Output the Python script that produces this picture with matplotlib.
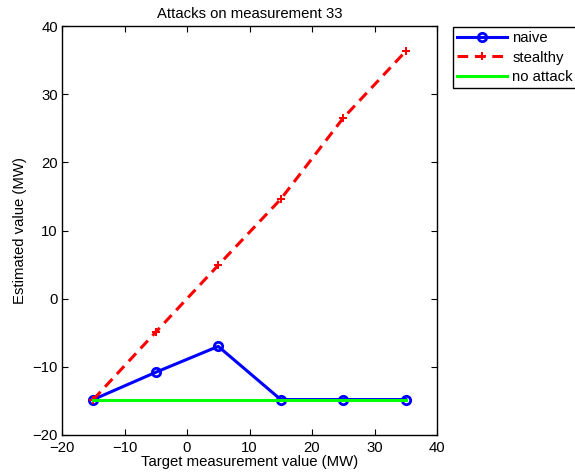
import numpy as np
import matplotlib
matplotlib.use('Agg')
import matplotlib.pyplot as plt

plt.rcParams['font.family'] = ['Liberation Sans', 'DejaVu Sans']

# Valores
target = [-15, -5, 5, 15, 25, 35]
naive = [-14.8, -10.8, -7.0, -14.8, -14.8, -14.8]
stealthy = [-14.8, -4.9, 4.9, 14.6, 26.5, 36.3]
no_attack = [-14.8, -14.8, -14.8, -14.8, -14.8, -14.8]

fs = 10.7

fig = plt.figure(figsize=(5.75, 4.74), dpi=100)
ax = fig.add_axes([62 / 575, 1 - 435 / 474, 375 / 575, 409 / 474])

ax.plot(target, naive, color='b', linewidth=2.2, marker='o', markersize=6,
        markerfacecolor='none', markeredgewidth=2, label='naive')
ax.plot(target, stealthy, color='r', linewidth=2.2, linestyle=(0, (3.5, 2.2)), marker='P',
        markersize=5.5, markeredgewidth=0, label='stealthy')
ax.plot(target, no_attack, color=(0, 1, 0), linewidth=2.2, label='no attack')

ax.set_xlim(-20, 40)
ax.set_ylim(-20, 40)
ax.set_xticks(np.arange(-20, 41, 10))
ax.set_yticks(np.arange(-20, 41, 10))
ax.tick_params(direction='in', top=True, right=True, labelsize=fs, length=4)
ax.tick_params(axis='x', pad=4)
ax.tick_params(axis='y', pad=3)
ax.set_xticklabels([str(v).replace('-', '\u2212') for v in range(-20, 41, 10)])
ax.set_yticklabels([str(v).replace('-', '\u2212') for v in range(-20, 41, 10)])
for s in ax.spines.values():
    s.set_linewidth(1)

ax.set_title('Attacks on measurement 33', fontsize=fs, pad=6)
ax.set_xlabel('Target measurement value (MW)', fontsize=fs, labelpad=0)
ax.set_ylabel('Estimated value (MW)', fontsize=fs)

leg = ax.legend(loc='upper left', bbox_to_anchor=(453 / 575, 1 - 27 / 474),
                bbox_transform=fig.transFigure, borderaxespad=0, fancybox=False,
                fontsize=fs, handlelength=3.3, handletextpad=0.4, borderpad=0.3,
                labelspacing=0.35, framealpha=1, edgecolor='k')
leg.get_frame().set_linewidth(1)

fig.savefig('out.png', dpi=100)
